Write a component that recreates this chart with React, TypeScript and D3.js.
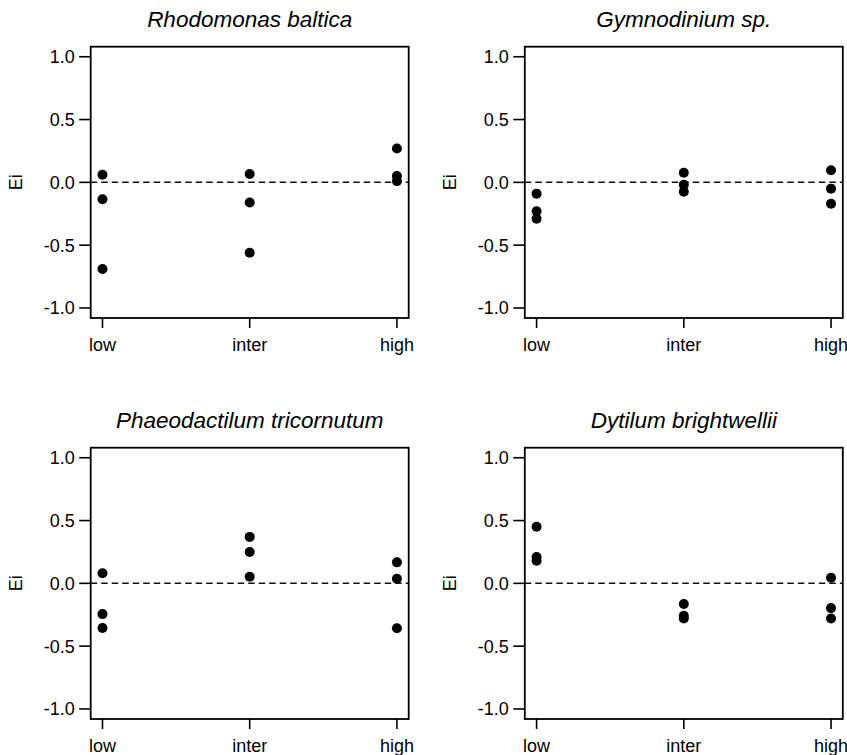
import React from "react";
import * as d3 from "d3";

const categories = ["low", "inter", "high"];
const yTicks = [-1.0, -0.5, 0.0, 0.5, 1.0];
const titles = [
  "Rhodomonas baltica",
  "Gymnodinium sp.",
  "Phaeodactilum tricornutum",
  "Dytilum brightwellii",
];

// values per category (low, inter, high)
const rhodomonas = [
  [0.06, -0.135, -0.69],
  [0.066, -0.16, -0.56],
  [0.27, 0.05, 0.01],
];
const gymnodinium = [
  [-0.09, -0.23, -0.29],
  [0.077, -0.02, -0.075],
  [0.096, -0.05, -0.17],
];
const phaeodactilum = [
  [0.08, -0.245, -0.355],
  [0.37, 0.25, 0.053],
  [0.167, 0.037, -0.358],
];
const dytilum = [
  [0.45, 0.21, 0.18],
  [-0.165, -0.258, -0.28],
  [0.045, -0.197, -0.28],
];

const seriesList = [rhodomonas, gymnodinium, phaeodactilum, dytilum];

const W = 847;
const H = 755;
const FONT = "'Liberation Sans', Arial, Helvetica, sans-serif";

const panelBoxes = [
  { left: 90.7, top: 46.7 },
  { left: 524.8, top: 46.7 },
  { left: 90.7, top: 447.7 },
  { left: 524.8, top: 447.7 },
];
const BOX_W = 318;
const BOX_H = 271.3;

const fmt = (t: number) => d3.format(".1f")(t).replace("\u2212", "-");

function Panel({ idx }: { idx: number }) {
  const { left, top } = panelBoxes[idx];
  const right = left + BOX_W;
  const bottom = top + BOX_H;
  const x = d3.scaleLinear().domain([0.92, 3.08]).range([left, right]);
  const y = d3.scaleLinear().domain([-1.08, 1.08]).range([bottom, top]);
  const data = seriesList[idx];
  const pts: { cx: number; cy: number }[] = [];
  data.forEach((vals, ci) => {
    vals.forEach((v) => pts.push({ cx: x(ci + 1), cy: y(v) }));
  });
  const line = d3.line<[number, number]>()([
    [left, y(0)],
    [right, y(0)],
  ]);
  return (
    <g>
      <text
        x={(left + right) / 2}
        y={top - 19.5}
        textAnchor="middle"
        fontStyle="italic"
        fontSize={22.5}
        fontFamily={FONT}
        fill="#000"
      >
        {titles[idx]}
      </text>
      <rect x={left} y={top} width={BOX_W} height={BOX_H} fill="none" stroke="#000" strokeWidth={1.8} />
      <path d={line || ""} stroke="#111" strokeWidth={1.5} strokeDasharray="6.5,4" fill="none" />
      {yTicks.map((t) => (
        <g key={t}>
          <line x1={left - 11.5} x2={left} y1={y(t)} y2={y(t)} stroke="#000" strokeWidth={1.6} />
          <text
            x={left - 16}
            y={y(t)}
            dy="0.36em"
            textAnchor="end"
            fontSize={18}
            fontFamily={FONT}
            fill="#000"
          >
            {fmt(t)}
          </text>
        </g>
      ))}
      {categories.map((c, i) => (
        <g key={c}>
          <line x1={x(i + 1)} x2={x(i + 1)} y1={bottom} y2={bottom + 10} stroke="#000" strokeWidth={1.6} />
          <text
            x={x(i + 1)}
            y={bottom + 33}
            textAnchor="middle"
            fontSize={18}
            fontFamily={FONT}
            fill="#000"
          >
            {c}
          </text>
        </g>
      ))}
      <text
        transform={`translate(${left - 69},${(top + bottom) / 2}) rotate(-90)`}
        textAnchor="middle"
        fontSize={18}
        fontFamily={FONT}
        fill="#000"
      >
        Ei
      </text>
      {pts.map((p, i) => (
        <circle key={i} cx={p.cx} cy={p.cy} r={5} fill="#000" />
      ))}
    </g>
  );
}

export default function App() {
  return (
    <svg
      width={W}
      height={H}
      style={{ position: "absolute", left: 0, top: 0, background: "#fff" }}
    >
      <rect x={0} y={0} width={W} height={H} fill="#fff" />
      {[0, 1, 2, 3].map((i) => (
        <Panel key={i} idx={i} />
      ))}
    </svg>
  );
}
